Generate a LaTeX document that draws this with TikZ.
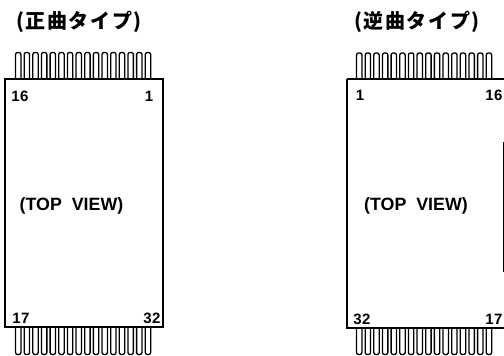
\documentclass[tikz,border=0pt]{standalone}
\usepackage{fontspec}
\setmainfont{Liberation Sans}
\newfontfamily\cjkf[LetterSpace=8]{Noto Sans CJK JP}
\tikzset{
  pinshape/.style={draw=black,line width=1.3pt,fill=white},
  bodyshape/.style={draw=black,line width=1.4pt,fill=white},
  pinnum/.style={font=\addfontfeature{LetterSpace=3}\fontsize{15}{15}\selectfont\bfseries,inner sep=0pt,text=black},
  viewlabel/.style={font=\fontsize{17.8}{18}\selectfont\bfseries,inner sep=0pt,text=black},
  titlelabel/.style={font=\fontsize{20}{20}\selectfont\cjkf\bfseries,inner sep=0pt,text=black,anchor=west}
}
\begin{document}
\begin{tikzpicture}[x=1pt,y=-1pt]
\useasboundingbox (0,0) rectangle (504,356);
% left package pins
\foreach \i in {0,...,15}{
  \pgfmathsetmacro{\xa}{15.5+8.65*\i}
  \pgfmathsetmacro{\xb}{\xa+5.4}
  \draw[pinshape,rounded corners=2pt] (\xa,79) -- (\xa,52.5) -- (\xb,52.5) -- (\xb,79);
  \draw[pinshape,rounded corners=2pt] (\xa,327) -- (\xa,354.5) -- (\xb,354.5) -- (\xb,327);
}
% right package pins
\foreach \i in {0,...,15}{
  \pgfmathsetmacro{\xa}{356.5+8.65*\i}
  \pgfmathsetmacro{\xb}{\xa+5.4}
  \draw[pinshape,rounded corners=2pt] (\xa,79) -- (\xa,53) -- (\xb,53) -- (\xb,79);
  \draw[pinshape,rounded corners=2pt] (\xa,328) -- (\xa,354.5) -- (\xb,354.5) -- (\xb,328);
}
\draw[bodyshape] (5,79) rectangle (163,327);
\draw[bodyshape] (347,79) -- (505,79) (347,79) -- (347,328) -- (505,328);
\draw[black,line width=1pt] (503.5,142) -- (503.5,272);
\node[titlelabel] (t1) at (16,22) {(正曲タイプ)};
\node[titlelabel] (t2) at (354,22) {(逆曲タイプ)};
\node[viewlabel] (v1) at (71.5,206) {(TOP\ \ VIEW)};
\node[viewlabel] (v2) at (416,206) {(TOP\ \ VIEW)};
\node[pinnum] (a16) at (20,96) {16};
\node[pinnum] (a1) at (149,96) {1};
\node[pinnum] (a17) at (21,318) {17};
\node[pinnum] (a32) at (152,318) {32};
\node[pinnum] (b1) at (360,95) {1};
\node[pinnum] (b16) at (494,95) {16};
\node[pinnum] (b32) at (362,319) {32};
\node[pinnum] (b17) at (494,319) {17};
\end{tikzpicture}
\end{document}
